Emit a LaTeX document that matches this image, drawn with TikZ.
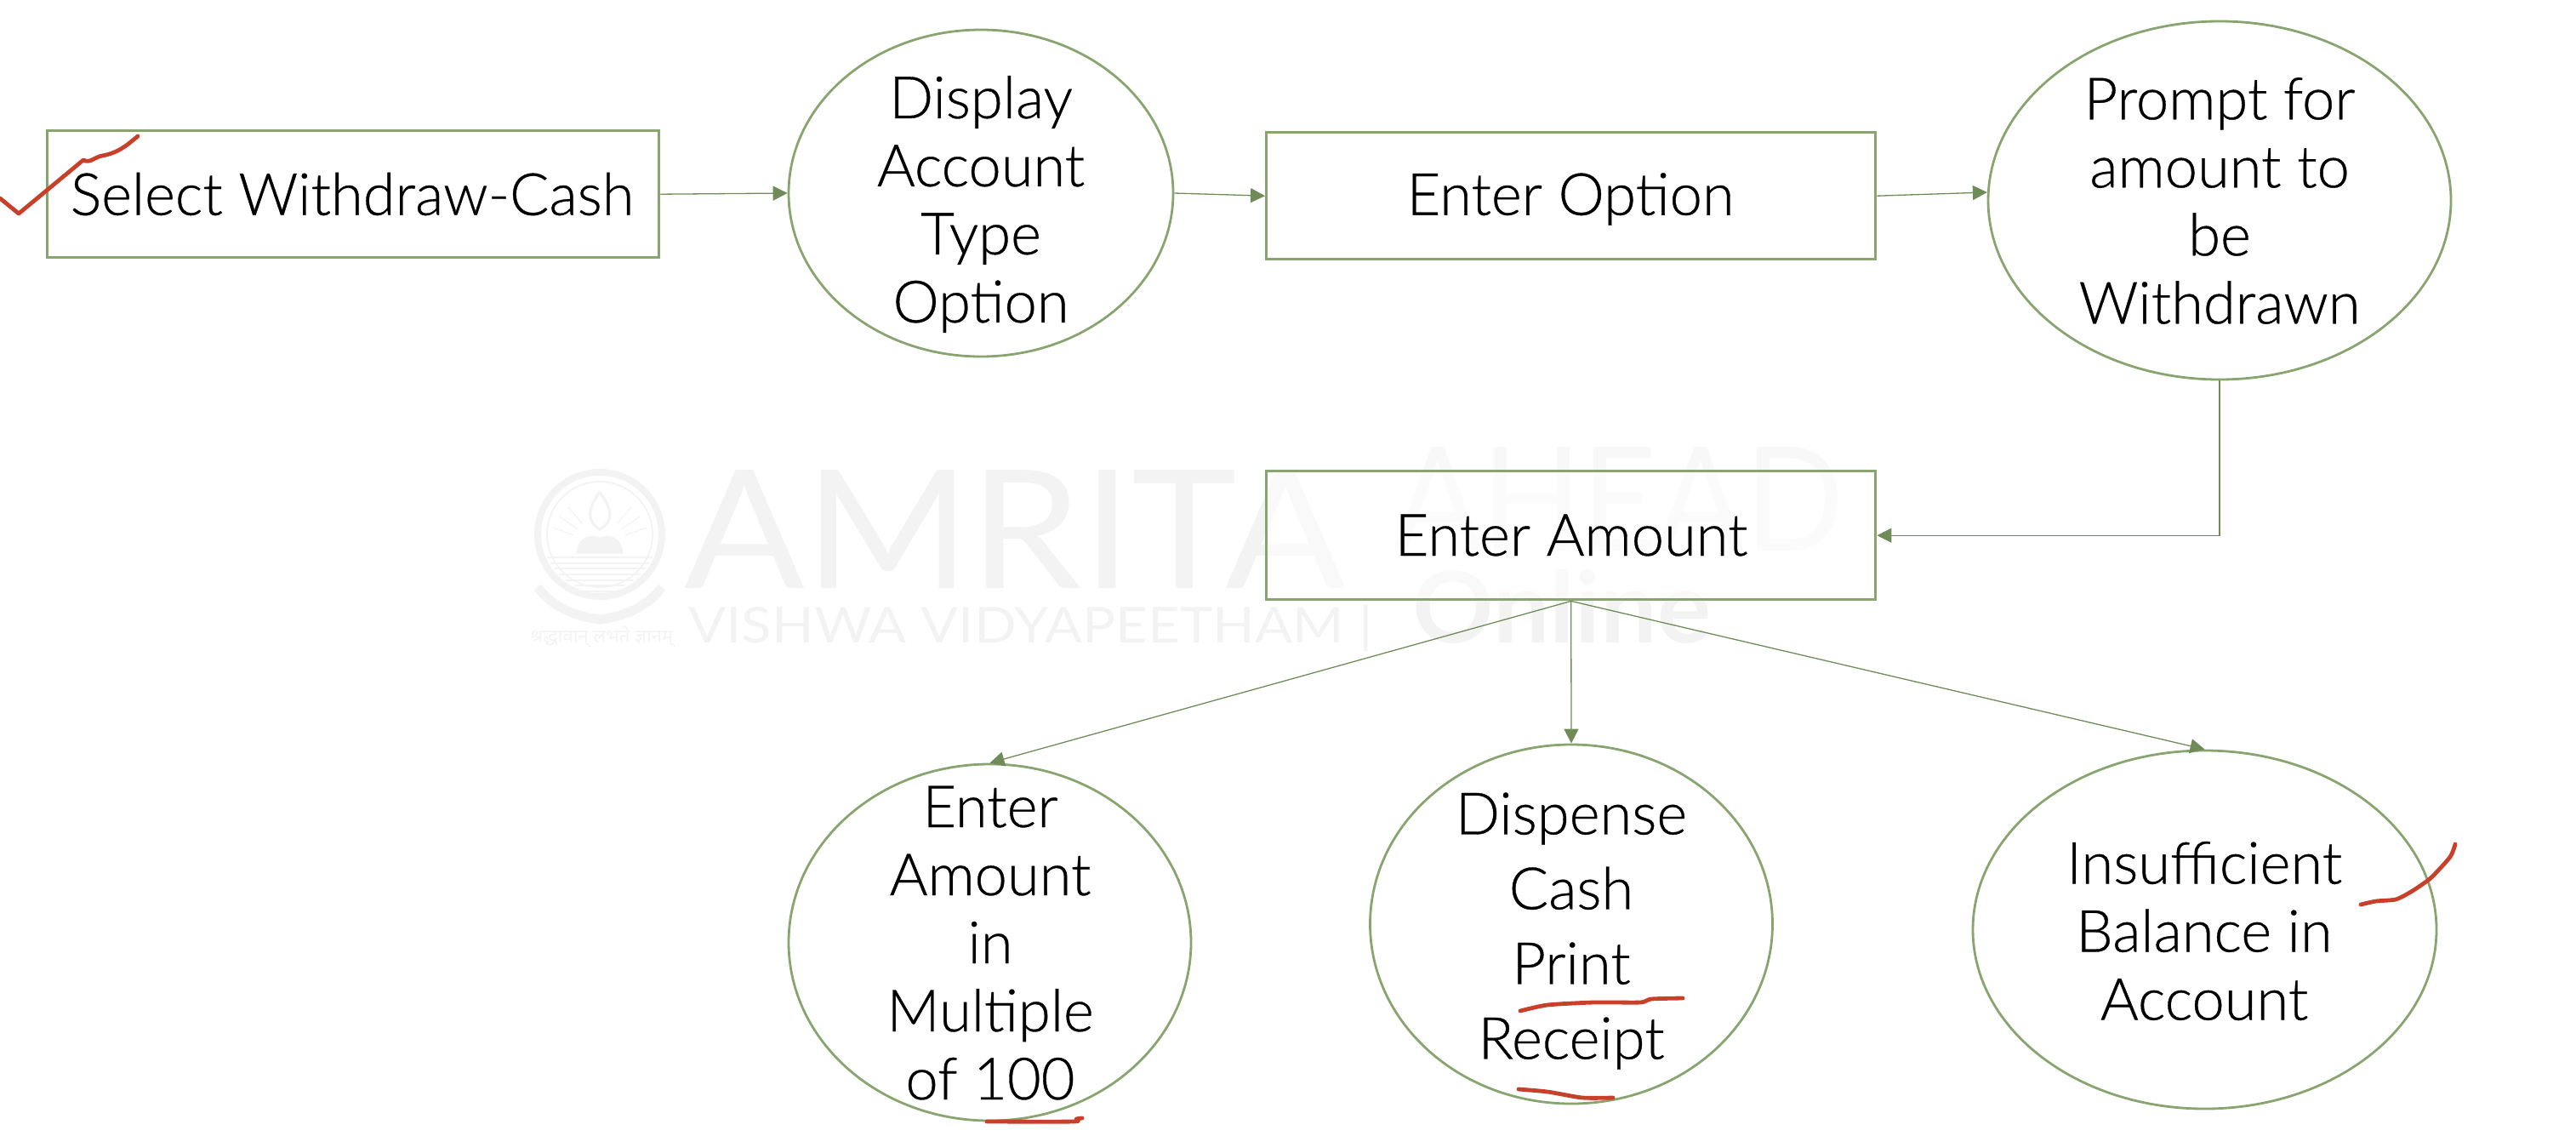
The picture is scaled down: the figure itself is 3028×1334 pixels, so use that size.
\documentclass[tikz,border=0pt]{standalone}
\usepackage{fontspec}
\setmainfont{Lato Light}[RawFeature={embolden=0.5}]
\newfontfamily\wmfont{Lato}
\newfontfamily\devfont[Script=Devanagari]{Noto Sans}
\usetikzlibrary{shapes.geometric,arrows.meta}
\definecolor{edgegreen}{HTML}{88A570}
\definecolor{linkgreen}{HTML}{6F8C58}
\definecolor{inkred}{HTML}{C8402A}
\definecolor{wm}{HTML}{F3F3F3}
\definecolor{wmlight}{HTML}{F8F8F8}
\tikzset{
  x=0.5pt,y=-0.5pt,
  boxn/.style={draw=edgegreen,line width=1.7pt,rectangle,inner sep=0pt,anchor=north west},
  elln/.style={draw=edgegreen,line width=1.4pt,ellipse,inner sep=0pt,minimum width=#1},
  txt/.style={align=center,inner sep=0pt,font=\fontsize{34.3}{40}\selectfont},
  txtw/.style={align=center,inner sep=0pt,font=\fontsize{34.3}{44}\selectfont},
  link/.style={draw=linkgreen,line width=0.65pt,-{Triangle[length=8.5pt,width=8.5pt]}},
  ink/.style={draw=inkred,line width=2.4pt,line cap=round,line join=round},
  wmt/.style={text=wm,inner sep=0pt},
}
\begin{document}
\begin{tikzpicture}
\useasboundingbox (0,0) rectangle (3028,1334);
% watermark seal
\begin{scope}[draw=wm]
\draw[line width=4pt] (705,628) circle [radius=73];
\draw[line width=0.9pt] (705,628) circle [radius=62];
\draw[line width=1.6pt] (705,578) .. controls (720,600) and (722,612) .. (705,622) .. controls (688,612) and (692,596) .. (705,578);
\draw[fill=wm,line width=0.5pt] (678,650) .. controls (680,630) and (695,628) .. (705,632) .. controls (715,628) and (730,630) .. (732,650) -- cycle;
\foreach \ang in {200,215,230,310,325,340}
  \draw[line width=0.6pt] (705,640) ++(\ang:32) -- ++(\ang:26);
\foreach \yy/\hw in {655/62,662/58,668/54,675/48,682/40,688/30,695/20}
  \draw[line width=0.8pt] (705-\hw,\yy) -- (705+\hw,\yy);
\draw[line width=5.5pt] (632,690) .. controls (650,715) and (680,725) .. (705,728) .. controls (730,725) and (760,715) .. (778,690);
\end{scope}
\node[wmt,font=\devfont\fontsize{11}{11}\selectfont] (wmmotto) at (707,748) {श्रद्धावान् लभते ज्ञानम्};
\node[wmt,anchor=south west,font=\wmfont\fontsize{97}{97}\selectfont] (wm1) at (804,692) {\scalebox{1.08}[1]{AMRITA}};
\node[text=wmlight,inner sep=0pt,anchor=base east,font=\wmfont\fontsize{85}{85}\selectfont] (wm2) at (2168,647) {\scalebox{0.9}[1]{AHEAD}};
\node[wmt,anchor=base west,font=\wmfont\fontsize{29}{29}\selectfont] (wm3) at (809,755) {\scalebox{1.125}[1]{VISHWA VIDYAPEETHAM |}};
\node[wmt,anchor=base west,font=\wmfont\bfseries\fontsize{58}{58}\selectfont] (wm4) at (1660,755) {\scalebox{1.02}[1]{Online}};
% boxes
\node[boxn,minimum width=359.5pt,minimum height=74.5pt] (r1) at (54,152) {};
\node[boxn,minimum width=358pt,minimum height=74.5pt] (r2) at (1487,154) {};
\node[boxn,fill=white,fill opacity=0.55,minimum width=358pt,minimum height=75.5pt] (r3) at (1487,552) {};
% ellipses
\node[elln=226pt,minimum height=192pt] (e1) at (1153,227) {};
\node[elln=272pt,minimum height=210.5pt] (e2) at (2609,235.5) {};
\node[elln=236.5pt,minimum height=209.5pt] (e3) at (1163.5,1107.5) {};
\node[elln=236.5pt,minimum height=211pt] (e4) at (1847,1086) {};
\node[elln=272.5pt,minimum height=210.5pt] (e5) at (2591.5,1092.5) {};
% texts
\node[txt] (t1) at (414,228) {Select Withdraw-Cash};
\node[txt] (t2) at (1153,240) {Display\\Account\\Type\\Option};
\node[txt] (t3) at (1846,234) {Enter Option};
\node[txt] (t4) at (2609,236) {Prompt for\\amount to\\be\\Withdrawn};
\node[txt] (t5) at (1847,629) {Enter Amount};
\node[txt] (t6) at (1164,1108) {Enter\\Amount\\in\\Multiple\\of 100};
\node[txtw] (t7) at (1847,1094) {Dispense\\Cash\\Print\\Receipt};
\node[txt] (t8) at (2591,1094) {Insufficient\\Balance in\\Account};
% connectors
\draw[link] (r1.east) -- (e1.west);
\draw[link] (e1.east) -- (r2.west);
\draw[link] (r2.east) -- (e2.178.4);
\draw[link] (e2.south) |- (r3.east);
\draw[link] (r3.south) -- (e3.north);
\draw[link] (r3.south) -- (e4.north);
\draw[link] (r3.south) -- (e5.north);
% red pen marks
\draw[ink] (0,233) -- (22,251) -- (57,222) -- (98,188) to[out=-30,in=190] (120,183) to[out=10,in=220] (162,160);
\draw[ink] plot[smooth,tension=0.4] coordinates {(1787,1188) (1819,1181) (1873,1178) (1928,1178) (1941,1174) (1978,1173)};
\draw[ink] plot[smooth,tension=0.4] coordinates {(1785,1280) (1819,1283) (1860,1290) (1896,1290)};
\draw[ink] plot[smooth,tension=0.4] coordinates {(1160,1318) (1262,1318) (1265,1315) (1272,1314)};
\draw[ink] plot[smooth,tension=0.4] coordinates {(2775,1063) (2793,1059) (2816,1057) (2834,1048) (2857,1032) (2880,1007) (2886,992)};
\end{tikzpicture}
\end{document}
